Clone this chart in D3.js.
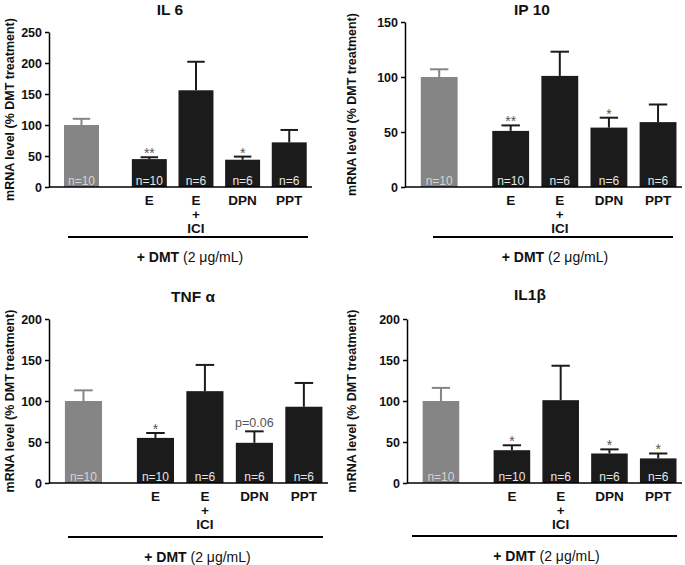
<!DOCTYPE html>
<html>
<head>
<meta charset="utf-8">
<script src="https://cdn.jsdelivr.net/npm/d3@7"></script>
<style>
  html, body { margin: 0; padding: 0; background: #fff; }
  svg { display: block; font-family: "Liberation Sans", Arial, sans-serif; }
</style>
</head>
<body>
<svg id="chart" width="685" height="565"></svg>
<script>
// ---- data ----
const categories = ["DMT", "E", "E+ICI", "DPN", "PPT"];
const categoryLabels = [[], ["E"], ["E", "+", "ICI"], ["DPN"], ["PPT"]];
const sampleSizes = ["n=10", "n=10", "n=6", "n=6", "n=6"];

const il6Mean = [100, 45, 156, 44, 72];
const il6Sem  = [10, 3, 46, 5, 20];
const il6Sig  = ["", "**", "", "*", ""];
const il6Ticks = [0, 50, 100, 150, 200, 250];

const ip10Mean = [100, 51, 101, 54, 59];
const ip10Sem  = [7, 5, 22, 9, 16];
const ip10Sig  = ["", "**", "", "*", ""];
const ip10Ticks = [0, 50, 100, 150];

const tnfMean = [100, 55, 112, 49, 93];
const tnfSem  = [13, 6, 32, 14, 29];
const tnfSig  = ["", "*", "", "p=0.06", ""];
const tnfTicks = [0, 50, 100, 150, 200];

const il1bMean = [100, 40, 101, 36, 30];
const il1bSem  = [16, 6, 42, 5, 6];
const il1bSig  = ["", "*", "", "*", "*"];
const il1bTicks = [0, 50, 100, 150, 200];

const yLabel = "mRNA level (% DMT treatment)";

// ---- layout (positions only) ----
const panels = [
  { title: "IL 6",  mean: il6Mean,  sem: il6Sem,  sig: il6Sig,  ticks: il6Ticks,
    x0: 49, x1: 312, yTop: 32, yBot: 187, titleX: 170, titleY: 15, lineX: [68, 308], lineY: 237, ylabX: 11 },
  { title: "IP 10", mean: ip10Mean, sem: ip10Sem, sig: ip10Sig, ticks: ip10Ticks,
    x0: 405, x1: 682, yTop: 22, yBot: 187, titleX: 532, titleY: 15, lineX: [433, 673], lineY: 237, ylabX: 353 },
  { title: "TNF α", mean: tnfMean,  sem: tnfSem,  sig: tnfSig,  ticks: tnfTicks,
    x0: 49, x1: 328, yTop: 319, yBot: 483, titleX: 193, titleY: 302, lineX: [68, 323], lineY: 537, ylabX: 11 },
  { title: "IL1β",  mean: il1bMean, sem: il1bSem, sig: il1bSig, ticks: il1bTicks,
    x0: 407, x1: 682, yTop: 319, yBot: 483, titleX: 530, titleY: 300, lineX: [412, 677], lineY: 536, ylabX: 353 }
];

const svg = d3.select("#chart");
const DARK = "#1b1b1b", GRAY = "#858585";

panels.forEach(p => {
  const g = svg.append("g");
  const W = p.x1 - p.x0;
  const y = d3.scaleLinear().domain([0, d3.max(p.ticks)]).range([p.yBot, p.yTop]);
  const xCtrl = d3.scaleBand().domain([categories[0]])
    .range([p.x0 + 0.057 * W, p.x0 + 0.19 * W]);
  const xTrt = d3.scaleBand().domain(categories.slice(1))
    .range([p.x0 + 0.315 * W, p.x0 + 0.98 * W]).paddingInner(0.25);
  const xPos = c => c === categories[0] ? xCtrl(c) : xTrt(c);
  const bw = c => c === categories[0] ? xCtrl.bandwidth() : xTrt.bandwidth();

  const rows = categories.map((c, i) => ({
    c, i, mean: p.mean[i], sem: p.sem[i], sig: p.sig[i], n: sampleSizes[i],
    color: i === 0 ? GRAY : DARK
  }));

  // bars
  g.selectAll("rect.bar").data(rows).join("rect")
    .attr("class", "bar")
    .attr("x", d => xPos(d.c))
    .attr("width", d => bw(d.c))
    .attr("y", d => y(d.mean))
    .attr("height", d => y(0) - y(d.mean))
    .attr("fill", d => d.color);

  // error bars (upper only)
  const eb = g.selectAll("g.err").data(rows).join("g").attr("class", "err")
    .attr("stroke", d => d.color).attr("stroke-width", 2);
  eb.append("line")
    .attr("x1", d => xPos(d.c) + bw(d.c) / 2).attr("x2", d => xPos(d.c) + bw(d.c) / 2)
    .attr("y1", d => y(d.mean)).attr("y2", d => y(d.mean + d.sem));
  eb.append("line")
    .attr("x1", d => xPos(d.c) + bw(d.c) * 0.25).attr("x2", d => xPos(d.c) + bw(d.c) * 0.75)
    .attr("y1", d => y(d.mean + d.sem)).attr("y2", d => y(d.mean + d.sem));

  // n labels
  g.selectAll("text.n").data(rows).join("text")
    .attr("class", "n")
    .attr("x", d => xPos(d.c) + bw(d.c) / 2)
    .attr("y", p.yBot - 2.5)
    .attr("text-anchor", "middle")
    .attr("font-size", 12)
    .attr("fill", d => d.i === 0 ? "#d4d4d4" : "#e6e6e6")
    .text(d => d.n);

  // significance marks
  g.selectAll("text.sig").data(rows.filter(d => d.sig)).join("text")
    .attr("class", "sig")
    .attr("x", d => xPos(d.c) + bw(d.c) / 2)
    .attr("y", d => y(d.mean + d.sem) - (d.sig.startsWith("p") ? 4 : -1))
    .attr("text-anchor", "middle")
    .attr("font-size", d => d.sig.startsWith("p") ? 12.5 : 14)
    .attr("fill", "#555")
    .text(d => d.sig);

  // y axis
  const yAxis = d3.axisLeft(y).tickValues(p.ticks).tickSize(4).tickPadding(3).tickSizeOuter(0);
  const ya = g.append("g").attr("transform", `translate(${p.x0},0)`).call(yAxis);
  ya.select(".domain").attr("stroke", "#000").attr("stroke-width", 1.5);
  ya.selectAll(".tick line").attr("stroke", "#000").attr("stroke-width", 1.5);
  ya.selectAll(".tick text").attr("font-size", 12.5).attr("font-weight", "bold")
    .attr("fill", "#111").attr("font-family", "Liberation Sans, Arial, sans-serif");

  // x baseline
  g.append("line").attr("x1", p.x0).attr("x2", p.x1)
    .attr("y1", y(0)).attr("y2", y(0)).attr("stroke", "#000").attr("stroke-width", 1.5);

  // category labels
  const cl = g.selectAll("text.cat").data(rows.filter(d => categoryLabels[d.i].length)).join("text")
    .attr("class", "cat")
    .attr("text-anchor", "middle")
    .attr("font-size", 13.5).attr("font-weight", "bold").attr("fill", "#111");
  cl.selectAll("tspan").data(d => categoryLabels[d.i].map((t, k) => ({ t, k, d }))).join("tspan")
    .attr("x", e => xPos(e.d.c) + bw(e.d.c) / 2)
    .attr("y", e => p.yBot + 18 + e.k * 14)
    .text(e => e.t);

  // title
  g.append("text").attr("x", p.titleX).attr("y", p.titleY)
    .attr("text-anchor", "middle").attr("font-size", 15.5).attr("font-weight", "bold")
    .attr("fill", "#111").text(p.title);

  // y label
  g.append("text")
    .attr("transform", `translate(${p.ylabX},${(p.yTop + p.yBot) / 2}) rotate(-90)`)
    .attr("text-anchor", "middle").attr("dominant-baseline", "middle")
    .attr("font-size", 12.5).attr("font-weight", "bold").attr("fill", "#111")
    .text(yLabel);

  // treatment line and label
  g.append("line").attr("x1", p.lineX[0]).attr("x2", p.lineX[1])
    .attr("y1", p.lineY).attr("y2", p.lineY).attr("stroke", "#000").attr("stroke-width", 2);
  const tl = g.append("text").attr("x", (p.lineX[0] + p.lineX[1]) / 2 + 2).attr("y", p.lineY + 25)
    .attr("text-anchor", "middle").attr("font-size", 14).attr("fill", "#111");
  tl.append("tspan").attr("font-weight", "bold").text("+ DMT ");
  tl.append("tspan").text("(2 μg/mL)");
});
</script>
</body>
</html>
